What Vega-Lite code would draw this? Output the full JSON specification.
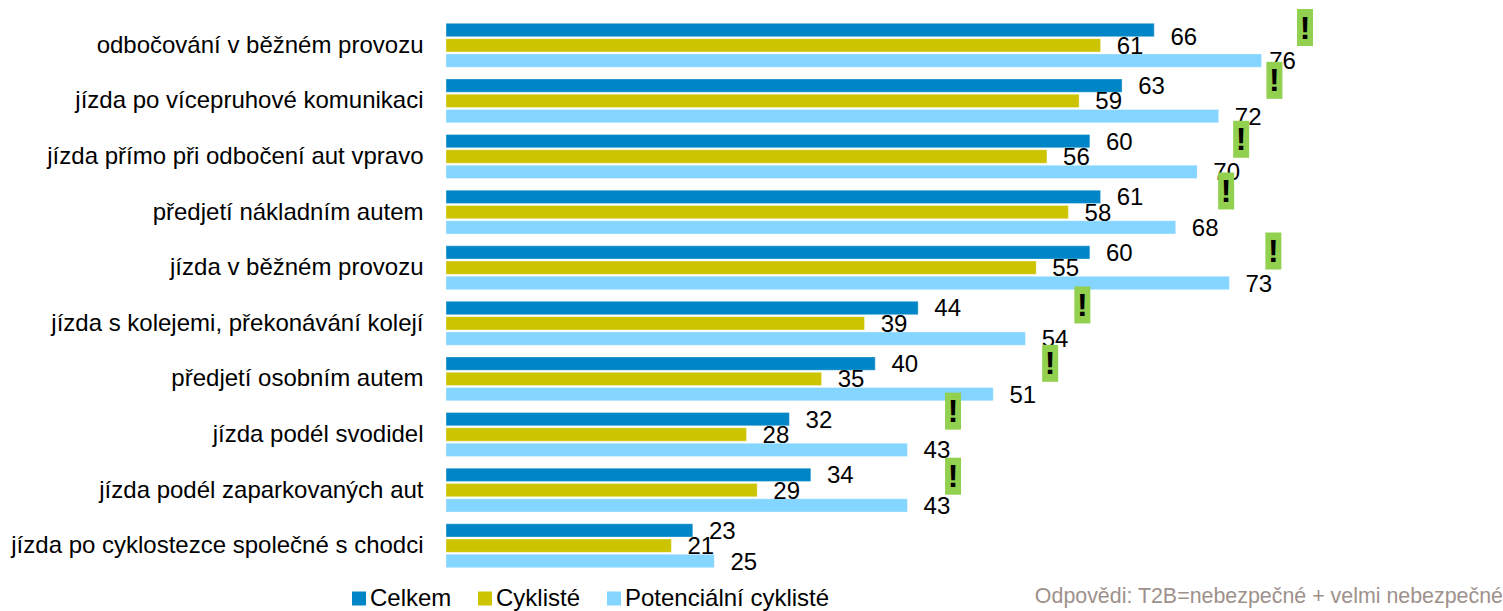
{
  "$schema": "https://vega.github.io/schema/vega-lite/v6.json",
  "width": 1057,
  "height": 556,
  "autosize": "none",
  "padding": {"left": 446, "top": 17.5, "right": 0, "bottom": 37.5},
  "background": "white",
  "config": {"view": {"stroke": null}, "font": "Liberation Sans"},
  "datasets": {
    "ratings": [
      {"activity": "odbočování v běžném provozu", "group": "Celkem", "value": 66},
      {"activity": "odbočování v běžném provozu", "group": "Cyklisté", "value": 61},
      {"activity": "odbočování v běžném provozu", "group": "Potenciální cyklisté", "value": 76},
      {"activity": "jízda po vícepruhové komunikaci", "group": "Celkem", "value": 63},
      {"activity": "jízda po vícepruhové komunikaci", "group": "Cyklisté", "value": 59},
      {"activity": "jízda po vícepruhové komunikaci", "group": "Potenciální cyklisté", "value": 72},
      {"activity": "jízda přímo při odbočení aut vpravo", "group": "Celkem", "value": 60},
      {"activity": "jízda přímo při odbočení aut vpravo", "group": "Cyklisté", "value": 56},
      {"activity": "jízda přímo při odbočení aut vpravo", "group": "Potenciální cyklisté", "value": 70},
      {"activity": "předjetí nákladním autem", "group": "Celkem", "value": 61},
      {"activity": "předjetí nákladním autem", "group": "Cyklisté", "value": 58},
      {"activity": "předjetí nákladním autem", "group": "Potenciální cyklisté", "value": 68},
      {"activity": "jízda v běžném provozu", "group": "Celkem", "value": 60},
      {"activity": "jízda v běžném provozu", "group": "Cyklisté", "value": 55},
      {"activity": "jízda v běžném provozu", "group": "Potenciální cyklisté", "value": 73},
      {"activity": "jízda s kolejemi, překonávání kolejí", "group": "Celkem", "value": 44},
      {"activity": "jízda s kolejemi, překonávání kolejí", "group": "Cyklisté", "value": 39},
      {"activity": "jízda s kolejemi, překonávání kolejí", "group": "Potenciální cyklisté", "value": 54},
      {"activity": "předjetí osobním autem", "group": "Celkem", "value": 40},
      {"activity": "předjetí osobním autem", "group": "Cyklisté", "value": 35},
      {"activity": "předjetí osobním autem", "group": "Potenciální cyklisté", "value": 51},
      {"activity": "jízda podél svodidel", "group": "Celkem", "value": 32},
      {"activity": "jízda podél svodidel", "group": "Cyklisté", "value": 28},
      {"activity": "jízda podél svodidel", "group": "Potenciální cyklisté", "value": 43},
      {"activity": "jízda podél zaparkovaných aut", "group": "Celkem", "value": 34},
      {"activity": "jízda podél zaparkovaných aut", "group": "Cyklisté", "value": 29},
      {"activity": "jízda podél zaparkovaných aut", "group": "Potenciální cyklisté", "value": 43},
      {"activity": "jízda po cyklostezce společné s chodci", "group": "Celkem", "value": 23},
      {"activity": "jízda po cyklostezce společné s chodci", "group": "Cyklisté", "value": 21},
      {"activity": "jízda po cyklostezce společné s chodci", "group": "Potenciální cyklisté", "value": 25}
    ],
    "badges": [
      {"at": 80.05, "row": 0.18, "mark": "!"},
      {"at": 77.2, "row": 1.13, "mark": "!"},
      {"at": 74.1, "row": 2.19, "mark": "!"},
      {"at": 72.7, "row": 3.12, "mark": "!"},
      {"at": 77.1, "row": 4.2, "mark": "!"},
      {"at": 59.3, "row": 5.17, "mark": "!"},
      {"at": 56.3, "row": 6.22, "mark": "!"},
      {"at": 47.25, "row": 7.08, "mark": "!"},
      {"at": 47.25, "row": 8.25, "mark": "!"}
    ],
    "notes": [
      {"at": 98.5, "row": 10.43, "note": "Odpovědi: T2B=nebezpečné + velmi nebezpečné"}
    ]
  },
  "layer": [
    {
      "data": {"name": "ratings"},
      "layer": [
        {
          "mark": {"type": "bar", "stroke": "#ffffff", "strokeOpacity": 0.35, "strokeWidth": 1},
          "encoding": {
            "color": {
              "field": "group",
              "type": "nominal",
              "scale": {
                "domain": ["Celkem", "Cyklisté", "Potenciální cyklisté"],
                "range": ["#0086C6", "#CCC400", "#84D5FF"]
              },
              "legend": {
                "title": null,
                "orient": "none",
                "legendX": -99,
                "legendY": 569,
                "direction": "horizontal",
                "symbolType": "square",
                "symbolSize": 196,
                "symbolStrokeWidth": 0,
                "labelFontSize": 24,
                "labelColor": "#000000",
                "labelOffset": -1,
                "columnPadding": 21,
                "labelLimit": 400
              }
            }
          }
        },
        {
          "transform": [{"filter": "datum.group === 'Celkem' && datum.value !== 66"}],
          "mark": {"type": "text", "fontSize": 24, "color": "#000000", "dx": 29.5, "dy": 1.5},
          "encoding": {"text": {"field": "value", "type": "quantitative"}}
        },
        {
          "transform": [{"filter": "datum.group === 'Celkem' && datum.value === 66"}],
          "mark": {"type": "text", "fontSize": 24, "color": "#000000", "dx": 29.5, "dy": 8.5},
          "encoding": {"text": {"field": "value", "type": "quantitative"}}
        },
        {
          "transform": [{"filter": "datum.group === 'Cyklisté'"}],
          "mark": {"type": "text", "fontSize": 24, "color": "#000000", "dx": 29.5, "dy": 1.5},
          "encoding": {"text": {"field": "value", "type": "quantitative"}}
        },
        {
          "transform": [{"filter": "datum.group === 'Potenciální cyklisté' && datum.value !== 76"}],
          "mark": {"type": "text", "fontSize": 24, "color": "#000000", "dx": 29.5, "dy": 1.5},
          "encoding": {"text": {"field": "value", "type": "quantitative"}}
        },
        {
          "transform": [{"filter": "datum.group === 'Potenciální cyklisté' && datum.value === 76"}],
          "mark": {"type": "text", "fontSize": 24, "color": "#000000", "dx": 21, "dy": 1.5},
          "encoding": {"text": {"field": "value", "type": "quantitative"}}
        }
      ],
      "encoding": {
        "x": {
          "field": "value",
          "type": "quantitative",
          "scale": {"domain": [0, 98.5], "nice": false, "zero": true},
          "axis": null
        },
        "y": {
          "field": "activity",
          "type": "nominal",
          "sort": null,
          "scale": {"paddingInner": 0.21, "paddingOuter": 0.105},
          "axis": {
            "title": null,
            "domain": false,
            "ticks": false,
            "labelFontSize": 24,
            "labelColor": "#000000",
            "labelPadding": 23,
            "labelLimit": 500,
            "labelOffset": 0.5
          }
        },
        "yOffset": {
          "field": "group",
          "type": "nominal",
          "scale": {
            "domain": ["Celkem", "Cyklisté", "Potenciální cyklisté"],
            "paddingInner": 0.13,
            "paddingOuter": 0
          }
        }
      }
    },
    {
      "data": {"name": "badges"},
      "layer": [
        {
          "mark": {"type": "rect", "color": "#92D050", "width": 16, "height": 37}
        },
        {
          "mark": {"type": "text", "fontSize": 32, "fontWeight": "bold", "color": "#000000", "dy": 1},
          "encoding": {"text": {"field": "mark", "type": "nominal"}}
        }
      ],
      "encoding": {
        "x": {
          "field": "at",
          "type": "quantitative",
          "scale": {"domain": [0, 98.5], "nice": false},
          "axis": null
        },
        "y": {
          "field": "row",
          "type": "quantitative",
          "scale": {"domain": [0, 10], "reverse": true, "nice": false, "zero": false},
          "axis": null
        }
      }
    },
    {
      "data": {"name": "notes"},
      "mark": {"type": "text", "align": "right", "fontSize": 21.4, "color": "#9E918C"},
      "encoding": {
        "x": {
          "field": "at",
          "type": "quantitative",
          "scale": {"domain": [0, 98.5], "nice": false},
          "axis": null
        },
        "y": {
          "field": "row",
          "type": "quantitative",
          "scale": {"domain": [0, 10], "reverse": true, "nice": false, "zero": false},
          "axis": null
        },
        "text": {"field": "note", "type": "nominal"}
      }
    }
  ],
  "resolve": {"scale": {"y": "independent"}}
}
